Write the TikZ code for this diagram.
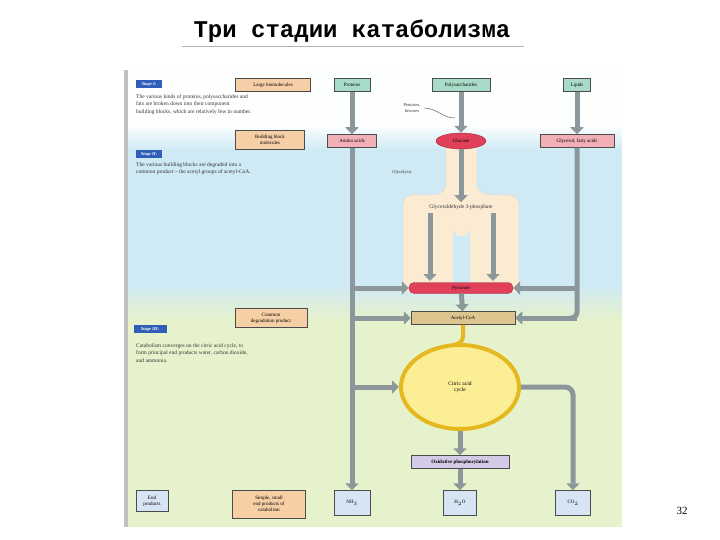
\documentclass[tikz,border=0pt]{standalone}
\usepackage{fontspec}
\setmainfont{Liberation Serif}
\newfontfamily\titlefont{Liberation Mono}
\usetikzlibrary{arrows.meta,shapes.geometric}
\definecolor{pipe}{HTML}{8C979C}
\definecolor{bxgreen}{HTML}{A9DCC8}
\definecolor{bxorange}{HTML}{F6CFA6}
\definecolor{bxpink}{HTML}{F2AFB6}
\definecolor{bxred}{HTML}{E0405A}
\definecolor{bxblue}{HTML}{D6E4F4}
\definecolor{bxtan}{HTML}{DDC590}
\definecolor{bxpurple}{HTML}{D3CBE6}
\definecolor{cream}{HTML}{FBEBD3}
\definecolor{stage}{HTML}{2F5DB8}
\definecolor{bgblue}{HTML}{CFEAF4}
\definecolor{bggreen}{HTML}{E6F2CC}
\definecolor{cyc}{HTML}{FCEE95}
\definecolor{cycring}{HTML}{E6B820}
\tikzset{
  box/.style={draw=black!70, line width=0.5pt, font=\fontsize{5}{6}\selectfont, align=center, inner sep=1.5pt},
  stg/.style={fill=stage, text=white, font=\fontsize{4.5}{5}\selectfont\itshape\bfseries, inner sep=1.5pt, minimum width=26pt, minimum height=8pt},
  desc/.style={font=\fontsize{5.5}{7.5}\selectfont, align=left, anchor=north west, inner sep=0pt, text=black!80},
  pipe/.style={line width=5pt, draw=pipe},
  parrow/.style={line width=5pt, draw=pipe, -{Triangle[width=13pt,length=7pt]}},
  lbl/.style={font=\fontsize{4.5}{5.5}\selectfont, align=center, text=black!80}
}
\begin{document}
\begin{tikzpicture}[x=1pt,y=-1pt]
\useasboundingbox (0,0) rectangle (720,540);
\fill[white] (0,0) rectangle (720,540);
% title
\node (title) at (352,31) {\titlefont\bfseries\fontsize{24}{26}\selectfont Три стадии катаболизма};
\draw[gray!60, line width=0.8pt] (182,46) -- (524,46);
\node (pg) at (682,511) {\fontsize{11}{12}\selectfont 32};
% backgrounds
\fill[white!96!bgblue] (124,70) rectangle (622,140);
\shade[top color=white!96!bgblue, bottom color=bgblue] (124,125) rectangle (622,150);
\fill[bgblue] (124,150) rectangle (622,285);
\shade[top color=bgblue, bottom color=bggreen] (124,285) rectangle (622,320);
\fill[bggreen] (124,320) rectangle (622,527);
\fill[black!25] (124,70) rectangle (128,527);
% left column
\node[stg] (s1) at (149,84) {Stage I:};
\node[desc] (d1) at (136,94) {The various kinds of proteins, polysaccharides and\\fats are broken down into their component\\building blocks, which are relatively few in number.};
\node[box, fill=bxorange, minimum width=75pt, minimum height=13pt] (lb) at (273,85) {Large biomolecules};
\node[box, fill=bxorange, minimum width=69pt, minimum height=19pt] (bb) at (270,140) {Building block\\molecules};
\node[stg] (s2) at (149,154) {Stage II:};
\node[desc] (d2) at (136,162) {The various building blocks are degraded into a\\common product -- the acetyl groups of acetyl-CoA.};
\node[box, fill=bxorange, minimum width=72pt, minimum height=19pt] (cd) at (271,318) {Common\\degradation product};
\node[stg, minimum width=33pt] (s3) at (150,329) {Stage III:};
\node[desc] (d3) at (136,343) {Catabolism converges on the citric acid cycle, to\\form principal end products water, carbon dioxide,\\and ammonia.};
\node[box, fill=bxblue, minimum width=32pt, minimum height=21pt] (ep) at (152,501) {End\\products};
\node[box, fill=bxorange, minimum width=73pt, minimum height=28pt] (se) at (269,504) {Simple, small\\end products of\\catabolism};
% glycolysis shape
\fill[cream, draw=black!15] (446,148) -- (446,185) to[out=270,in=0] (430,195) -- (412,195) to[out=180,in=90] (403,205)
  -- (403,292) -- (519,292) -- (519,205) to[out=90,in=0] (510,195) -- (492,195) to[out=180,in=270] (477,185) -- (477,148) -- cycle;
\fill[bgblue] (453,292) -- (453,228) arc[start angle=180,end angle=0,radius=8.5] -- (470,292) -- cycle;
\node[lbl] (gly) at (402,172) {Glycolysis};
\node[lbl] (pent) at (412,108) {Pentoses,\\hexoses};
% top boxes
\node[box, fill=bxgreen, minimum width=36pt, minimum height=13pt] (prot) at (352,85) {Proteins};
\node[box, fill=bxgreen, minimum width=58pt, minimum height=13pt] (poly) at (461,85) {Polysaccharides};
\node[box, fill=bxgreen, minimum width=27pt, minimum height=13pt] (lip) at (577,85) {Lipids};
\node[box, fill=bxpink, minimum width=49pt, minimum height=13pt] (aa) at (352,141) {Amino acids};
\node[ellipse, fill=bxred, draw=bxred!70!black, minimum width=50pt, minimum height=16pt, inner sep=0pt, font=\fontsize{5}{6}\selectfont] (glc) at (461,141) {Glucose};
\node[box, fill=bxpink, minimum width=74pt, minimum height=13pt] (gfa) at (577,141) {Glycerol, fatty acids};
\node[lbl, font=\fontsize{5.5}{6}\selectfont] (g3p) at (461,207) {Glyceraldehyde 3-phosphate};
\node[rounded corners=5pt, fill=bxred, draw=bxred!70!black, minimum width=104pt, minimum height=11pt, inner sep=0pt, font=\fontsize{5}{6}\selectfont] (pyr) at (461,288) {Pyruvate};
\node[box, fill=bxtan, minimum width=104pt, minimum height=13pt] (acoa) at (463,318) {Acetyl-CoA};
\node[ellipse, fill=cyc, draw=cycring, line width=4pt, minimum width=118pt, minimum height=84pt, inner sep=0pt, font=\fontsize{5.5}{6.5}\selectfont, align=center] (cac) at (460,387) {Citric acid\\cycle};
\node[box, fill=bxpurple, minimum width=98pt, minimum height=13pt, font=\fontsize{5}{6}\selectfont\bfseries] (ox) at (460,462) {Oxidative phosphorylation};
\node[box, fill=bxblue, minimum width=36pt, minimum height=25pt] (nh3) at (352,503) {NH$_3$};
\node[box, fill=bxblue, minimum width=33pt, minimum height=25pt] (h2o) at (460,503) {H$_2$O};
\node[box, fill=bxblue, minimum width=35pt, minimum height=25pt] (co2) at (573,503) {CO$_2$};
% helper coordinates
\coordinate (pl1) at (352,288);
\coordinate (pl2) at (352,318);
\coordinate (pl3) at (352,387);
\coordinate (pr1) at (577,288);
\coordinate (pr2) at (577,318);
\coordinate (cr) at (573,387);
% connectors
\draw[parrow] (prot) -- (aa);
\draw[parrow] (poly) -- (glc);
\draw[parrow] (lip) -- (gfa);
\draw[parrow] (glc.south) -- ++(0,53);
\draw[parrow] (430,213) -- (430,281);
\draw[parrow] (493,213) -- (493,281);
\draw[parrow] (aa) -- (nh3);
\draw[parrow] (pl1) -- (pyr.west);
\draw[parrow] (pl2) -- (acoa.west);
\draw[parrow] (pl3) -- (cac.west);
\draw[pipe, rounded corners=6pt] (gfa.south) -- (pr2) -- ++(-8,0);
\draw[parrow] (pr1) -- (pyr.east);
\draw[parrow] (pr2) -- (acoa.east);
\draw[parrow] (pyr) -- (acoa);
\draw[parrow, rounded corners=8pt] (cac.east) -- (cr) -- (co2.north);
\draw[parrow] (cac.south) -- (ox);
\draw[parrow] (ox) -- (h2o);
\draw[draw=cycring, line width=4pt] (acoa.south) -- ++(0,12) to[out=270,in=0] (452,345);
\draw[black!70, line width=0.4pt] (pent.east) to[out=0,in=180] (455,118);
\end{tikzpicture}
\end{document}
